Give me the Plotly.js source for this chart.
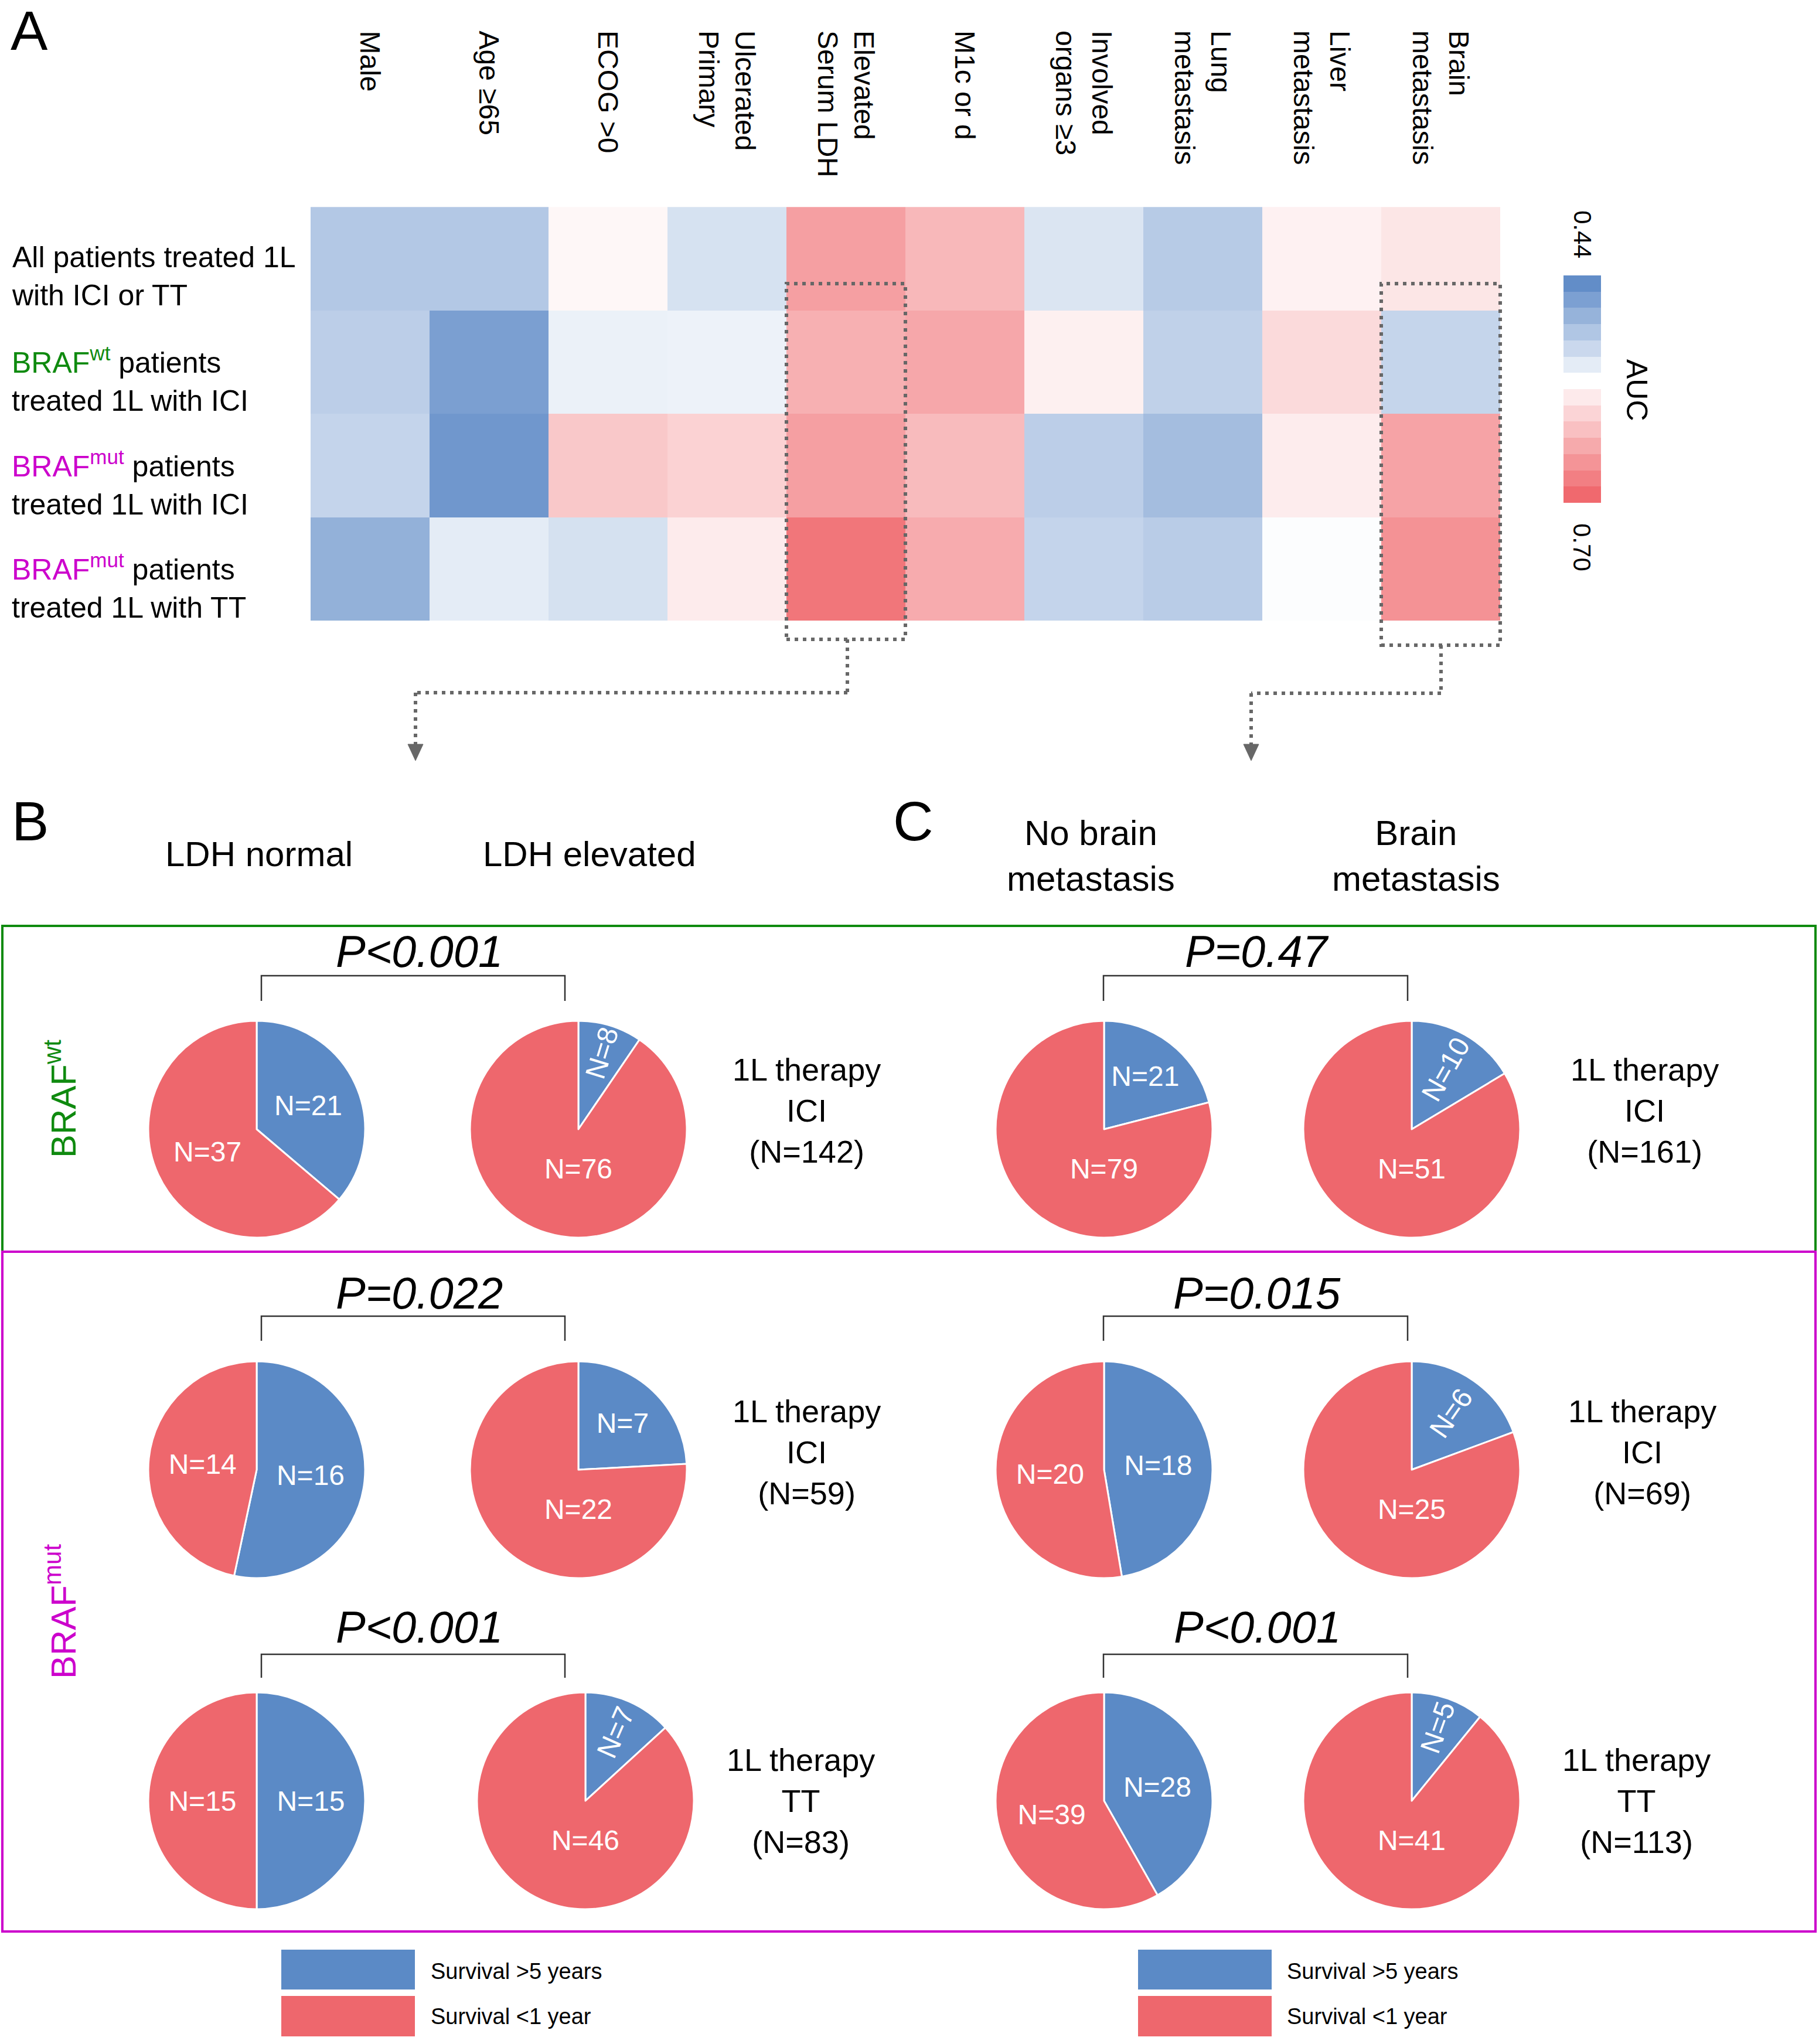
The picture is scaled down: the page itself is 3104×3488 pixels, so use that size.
<!DOCTYPE html>
<html><head><meta charset="utf-8">
<script src="https://cdn.plot.ly/plotly-3.0.1.min.js"></script>
<style>html,body{margin:0;padding:0;background:#fff}</style>
</head><body><div id="chart" style="width:3104px;height:3488px"></div>
<script>
// ---------------- DATA ----------------
const columns = ['Male','Age ≥65','ECOG >0','Ulcerated Primary','Elevated Serum LDH','M1c or d','Involved organs ≥3','Lung metastasis','Liver metastasis','Brain metastasis'];
const colLabels = ['Male','Age ≥65','ECOG >0','Ulcerated<br>Primary','Elevated<br>Serum LDH','M1c or d','Involved<br>organs ≥3','Lung<br>metastasis','Liver<br>metastasis','Brain<br>metastasis'];
const rows = ['All ICI or TT','BRAFwt ICI','BRAFmut ICI','BRAFmut TT'];
const rowLabels = [
  'All patients treated 1L<br>with ICI or TT',
  '<span style="color:#0f8a0f">BRAF<sup>wt</sup></span> patients<br>treated 1L with ICI',
  '<span style="color:#cc00cc">BRAF<sup>mut</sup></span> patients<br>treated 1L with ICI',
  '<span style="color:#cc00cc">BRAF<sup>mut</sup></span> patients<br>treated 1L with TT'
];
const aucAll    = [0.507,0.507,0.568,0.532,0.644,0.623,0.535,0.510,0.573,0.583];
const aucWtICI  = [0.513,0.467,0.547,0.548,0.630,0.637,0.574,0.516,0.593,0.520];
const aucMutICI = [0.519,0.459,0.609,0.600,0.644,0.620,0.513,0.496,0.577,0.641];
const aucMutTT  = [0.484,0.542,0.531,0.578,0.680,0.634,0.519,0.511,0.559,0.656];
const colorbarSteps = [0.449,0.468,0.486,0.505,0.523,0.542,0.561,0.579,0.598,0.616,0.635,0.654,0.672,0.691];
const colorbarTickLabels = ['0.44','0.70'];

const sliceNames = ['Survival >5 years','Survival <1 year'];
// pies: [LDH normal, LDH elevated, No brain met, Brain met]
const over5_wtICI  = [21, 8, 21, 10];
const under1_wtICI = [37, 76, 79, 51];
const over5_mutICI  = [16, 7, 18, 6];
const under1_mutICI = [14, 22, 20, 25];
const over5_mutTT  = [15, 7, 28, 5];
const under1_mutTT = [15, 46, 39, 41];
const pValuesB = ['P<0.001','P=0.022','P<0.001'];
const pValuesC = ['P=0.47','P=0.015','P<0.001'];
const therapy = ['ICI','ICI','TT'];
const totalsB = ['N=142','N=59','N=83'];
const totalsC = ['N=161','N=69','N=113'];

// ---------------- LAYOUT HELPERS ----------------
const W = 3104, H = 3488;
const px = x => x / W, py = y => 1 - y / H;
const FONT = 'Liberation Sans, Arial, sans-serif';
const BLUE = '#5b8ac6', RED = '#ee676d', GRAY = '#676767';
const GREEN = '#0f8a0f', MAG = '#cc00cc';
const DOTS = '6px,8px';
const scale = [[0,'#5584c4'],[0.465,'#ffffff'],[1,'#ef5f64']];

const traces = [];
traces.push({
  type:'heatmap', x: columns, y: rows,
  z: [aucAll, aucWtICI, aucMutICI, aucMutTT],
  colorscale: scale, zmin: 0.44, zmax: 0.70, showscale: false,
  xaxis:'x', yaxis:'y', hoverinfo:'skip'
});
traces.push({
  type:'heatmap', x:[0], y: colorbarSteps.map((v,i)=>i),
  z: colorbarSteps.map(v=>[v]),
  colorscale: scale, zmin: 0.44, zmax: 0.70, showscale:false,
  xaxis:'x2', yaxis:'y2', hoverinfo:'skip'
});

const pieCX = [[438,987,1884,2409],[438,987,1884,2409],[438,999,1884,2409]];
const pieCY = [1927, 2508, 3073];
const R = 185;
const blueOrient = [['horizontal','radial','horizontal','radial'],['horizontal','horizontal','horizontal','radial'],['horizontal','radial','horizontal','radial']];
const redTangential = [[false,true,true,true],[false,true,false,true],[false,true,false,true]];
const pieRows = [[over5_wtICI, under1_wtICI],[over5_mutICI, under1_mutICI],[over5_mutTT, under1_mutTT]];
pieRows.forEach((pr, r) => {
  for (let c = 0; c < 4; c++) {
    const vals = [pr[0][c], pr[1][c]];
    const labels = vals.map(v => 'N=' + v);
    const cx = pieCX[r][c], cy = pieCY[r];
    const domain = {x:[px(cx-R), px(cx+R)], y:[py(cy+R), py(cy-R)]};
    const tan = redTangential[r][c];
    traces.push({
      type:'pie', values: vals, labels: sliceNames,
      text: tan ? [labels[0], ''] : labels, textinfo:'text', textposition:'inside',
      insidetextorientation: blueOrient[r][c],
      textfont:{family:FONT, size:48, color:'#ffffff'},
      sort:false, direction:'clockwise', rotation:0,
      marker:{colors:[BLUE, RED], line:{color:'#ffffff', width:3}},
      domain: domain, showlegend:false, hoverinfo:'skip'
    });
    if (tan) {
      traces.push({
        type:'pie', values: vals, labels: sliceNames,
        text: ['', labels[1]], textinfo:'text', textposition:'inside',
        insidetextorientation: 'tangential',
        textfont:{family:FONT, size:48, color:'#ffffff'},
        sort:false, direction:'clockwise', rotation:0,
        marker:{colors:['rgba(0,0,0,0)','rgba(0,0,0,0)'], line:{width:0}},
        domain: domain, showlegend:false, hoverinfo:'skip'
      });
    }
  }
});

const ann = [];
const shapes = [];
function text(t, x, y, size, opts={}) {
  ann.push(Object.assign({text:t, x:px(x), y:py(y), xref:'paper', yref:'paper', showarrow:false,
    xanchor:'center', yanchor:'middle', font:{family:FONT, size:size, color:'#000'}}, opts));
}
function line(x0,y0,x1,y1,color,width,dash) {
  shapes.push({type:'line', xref:'paper', yref:'paper', x0:px(x0), y0:py(y0), x1:px(x1), y1:py(y1),
    line:{color:color, width:width, dash:dash||'solid'}});
}

// Panel letters
text('A', 16, 52, 95, {xanchor:'left'});
text('B', 18, 1401, 95, {xanchor:'left'});
text('C', 1522, 1401, 95, {xanchor:'left'});

// Column labels (rotated)
columns.forEach((c, i) => {
  ann.push({text: colLabels[i], x: c, xref:'x', y: py(50), yref:'paper', showarrow:false,
    textangle: 90, xanchor:'center', yanchor:'top', align:'left',
    font:{family:FONT, size:48, color:'#000'}});
});
// Row labels
rows.forEach((r, i) => {
  ann.push({text: rowLabels[i], x: px(18), xref:'paper', y: r, yref:'y', yshift:-30, showarrow:false,
    xanchor:'left', yanchor:'middle', align:'left', font:{family:FONT, size:50, color:'#000'}});
});
// Colorbar labels
text(colorbarTickLabels[0], 2700, 400, 42, {textangle:90});
text(colorbarTickLabels[1], 2700, 934, 42, {textangle:90});
text('AUC', 2793, 666, 50, {textangle:90});

// Dotted highlight boxes
const ldhIdx = columns.indexOf('Elevated Serum LDH');
const brainIdx = columns.indexOf('Brain metastasis');
shapes.push({type:'rect', xref:'x', yref:'paper', x0: ldhIdx-0.5, x1: ldhIdx+0.5, y0: py(1091), y1: py(484),
  line:{color:GRAY, width:6, dash:DOTS}});
shapes.push({type:'rect', xref:'x', yref:'paper', x0: brainIdx-0.5, x1: brainIdx+0.5, y0: py(1101), y1: py(484),
  line:{color:GRAY, width:6, dash:DOTS}});
// Connectors
line(1446,1091,1446,1182,GRAY,6,DOTS);
line(1446,1182,709,1182,GRAY,6,DOTS);
line(709,1182,709,1272,GRAY,6,DOTS);
line(2459,1101,2459,1183,GRAY,6,DOTS);
line(2459,1183,2135,1183,GRAY,6,DOTS);
line(2135,1183,2135,1272,GRAY,6,DOTS);
[709, 2135].forEach(x => {
  shapes.push({type:'path', xref:'paper', yref:'paper',
    path:`M ${px(x-13)} ${py(1270)} L ${px(x+13)} ${py(1270)} L ${px(x)} ${py(1298)} Z`,
    fillcolor:GRAY, line:{color:GRAY, width:1}});
});

// Headers B/C
text('LDH normal', 442, 1457, 60);
text('LDH elevated', 1006, 1457, 60);
text('No brain<br>metastasis', 1861, 1460, 60);
text('Brain<br>metastasis', 2416, 1460, 60);

// Group boxes
shapes.push({type:'rect', xref:'paper', yref:'paper', x0:px(4), x1:px(3098), y0:py(2136), y1:py(1580),
  line:{color:GREEN, width:4}});
shapes.push({type:'rect', xref:'paper', yref:'paper', x0:px(4), x1:px(3098), y0:py(3296), y1:py(2136),
  line:{color:MAG, width:4}});
text('BRAF<sup>wt</sup>', 104, 1875, 60, {textangle:-90, font:{family:FONT, size:60, color:GREEN}});
text('BRAF<sup>mut</sup>', 104, 2750, 60, {textangle:-90, font:{family:FONT, size:60, color:MAG}});

// P-values, brackets, therapy labels
const pY = [1623, 2206, 2776];
const brTop = [1665, 2246, 2823], brBot = [1708, 2288, 2863];
const thY = [1895, 2478, 3073];
const thXB = [1376, 1376, 1366], thXC = [2806, 2802, 2792];
for (let r = 0; r < 3; r++) {
  text('<i>' + pValuesB[r].replace('<','&lt;') + '</i>', 715, pY[r], 76);
  text('<i>' + pValuesC[r].replace('<','&lt;') + '</i>', 2145, pY[r], 76);
  [[446,964],[1883,2402]].forEach(([a,b]) => {
    shapes.push({type:'path', xref:'paper', yref:'paper',
      path:`M ${px(a)} ${py(brBot[r])} L ${px(a)} ${py(brTop[r])} L ${px(b)} ${py(brTop[r])} L ${px(b)} ${py(brBot[r])}`,
      line:{color:'#333', width:2.5}});
  });
  text('1L therapy<br>' + therapy[r] + '<br>(' + totalsB[r] + ')', thXB[r], thY[r], 54);
  text('1L therapy<br>' + therapy[r] + '<br>(' + totalsC[r] + ')', thXC[r], thY[r], 54);
}

// Legends
[[479,733],[1941,2194]].forEach(([x0, tx]) => {
  shapes.push({type:'rect', xref:'paper', yref:'paper', x0:px(x0), x1:px(x0+230), y0:py(3396), y1:py(3326),
    fillcolor:BLUE, line:{color:'#ffffff', width:2}});
  shapes.push({type:'rect', xref:'paper', yref:'paper', x0:px(x0), x1:px(x0+230), y0:py(3476), y1:py(3405),
    fillcolor:RED, line:{color:'#ffffff', width:2}});
  text(sliceNames[0].replace('>','&gt;'), tx, 3364, 38, {xanchor:'left'});
  text(sliceNames[1].replace('<','&lt;'), tx, 3441, 38, {xanchor:'left'});
});

const layout = {
  width: W, height: H, margin:{l:0,r:0,t:0,b:0}, paper_bgcolor:'#fff', plot_bgcolor:'#fff',
  font:{family:FONT},
  xaxis:{domain:[px(530), px(2563)], showticklabels:false, ticks:'', showgrid:false, zeroline:false, anchor:'y'},
  yaxis:{domain:[py(1059), py(349)], autorange:'reversed', showticklabels:false, ticks:'', showgrid:false, zeroline:false, anchor:'x'},
  xaxis2:{domain:[px(2668), px(2732)], showticklabels:false, ticks:'', showgrid:false, zeroline:false, anchor:'y2'},
  yaxis2:{domain:[py(858), py(470)], autorange:'reversed', showticklabels:false, ticks:'', showgrid:false, zeroline:false, anchor:'x2'},
  annotations: ann, shapes: shapes, showlegend:false
};
Plotly.newPlot('chart', traces, layout, {staticPlot:true, displayModeBar:false});
</script></body></html>
